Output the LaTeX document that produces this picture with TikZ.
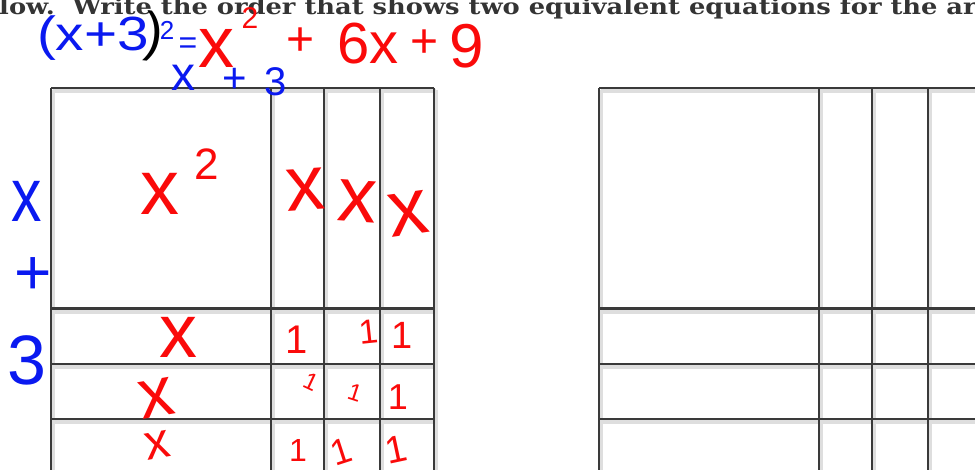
\documentclass[tikz,border=0pt]{standalone}
\usepackage{fontspec}
\setmainfont{DejaVu Serif}
\newfontfamily\inkfont{Liberation Sans}
\usetikzlibrary{positioning}
\definecolor{inkred}{RGB}{250, 10, 10}
\definecolor{inkblue}{RGB}{10, 25, 240}
\definecolor{gridgray}{RGB}{58, 58, 58}
\definecolor{headgray}{RGB}{52, 52, 52}
\newcommand{\inksize}[1]{\fontsize{#1}{#1}\selectfont}
\tikzset{
  gridline/.style={line width=1.8pt, gridgray},
  gridshadow/.style={line width=4pt, black!13},
  redink/.style={inner sep=0pt, text=inkred, font=\inkfont\inksize{#1}},
  blueink/.style={inner sep=0pt, text=inkblue, font=\inkfont\inksize{#1}},
  blackink/.style={inner sep=0pt, text=black, font=\inkfont\inksize{#1}}
}

\begin{document}
\begin{tikzpicture}[x=1pt, y=-1pt]
    \useasboundingbox (0,0) rectangle (975,470);
    \clip (0,0) rectangle (975,470);
    \fill[white] (0,0) rectangle (975,470);

    % heading, cut at the top
    \node[anchor=base west, inner sep=0pt, xscale=1.17, text=headgray, font=\bfseries\fontsize{22}{22}\selectfont] (heading) at (-1,14.5) {low.\ \ Write the order that shows two equivalent equations for the are};

    % the two area grids
    \foreach \gridx in {0,548} {
      \begin{scope}[xshift=\gridx]
        \foreach \gx in {51,271,324,380,434}
          \draw[gridshadow] (\gx+2,90) -- (\gx+2,475);
        \foreach \gy in {88,309,364,419}
          \draw[gridshadow] (53,\gy+3) -- (436,\gy+3);
        \foreach \gx in {51,271,324,380,434}
          \draw[gridline] (\gx,88) -- (\gx,475);
        \foreach \gy in {88,364,419}
          \draw[gridline] (51,\gy) -- (434,\gy);
        \draw[gridline, line width=3pt] (51,309) -- (434,309);
      \end{scope}
    }

    % written equation
    \node[blueink=48, xscale=1.18] (lhs) at (93,38) {(x+3};
    \node[blackink=54, rotate=-6] (rparen) at (154,37) {)};
    \node[blueink=26] (lhsexp) at (167,30) {2};
    \node[blueink=32] (eq) at (188,46) {=};
    \node[redink=72] (rx) at (216,48) {x};
    \node[redink=30] (rxexp) at (250,18) {2};
    \node[redink=48] (plusa) at (301,42) {+};
    \node[redink=58] (sixx) at (368,44) {6x};
    \node[redink=48] (plusb) at (425,44) {+};
    \node[redink=62] (nine) at (467,46) {9};
    \node[blueink=48] (topx) at (183,78) {x};
    \node[blueink=42] (topplus) at (235,80) {+};
    \node[blueink=40] (topthree) at (276,82) {3};

    % side length
    \node[blueink=76, xscale=0.8] (sidex) at (27,201) {x};
    \node[blueink=64] (sideplus) at (33,276) {+};
    \node[blueink=70] (sidethree) at (27,360) {3};

    % areas
    \node[redink=78] (sqx) at (160,194) {x};
    \node[redink=44] (sqexp) at (207,164) {2};
    \node[redink=78, rotate=4] (colxa) at (306,190) {x};
    \node[redink=78, rotate=-4] (colxb) at (357,201) {x};
    \node[redink=80, rotate=8] (colxc) at (408,214) {x};
    \node[redink=76] (rowxa) at (178,337) {x};
    \node[redink=70, rotate=10] (rowxb) at (157,398) {x};
    \node[redink=50, rotate=10] (rowxc) at (158,445) {x};
    \foreach \px/\py/\rot/\sz [count=\i] in {297/340/0/40, 369/332/6/34, 402/335/0/38,
        311/382/-25/24, 355/393/-18/24, 398/397/0/36,
        298/450/0/32, 341/452/18/36, 396/450/12/38}
      \node[redink=\sz, rotate=\rot] (one\i) at (\px,\py) {1};
\end{tikzpicture}
\end{document}
